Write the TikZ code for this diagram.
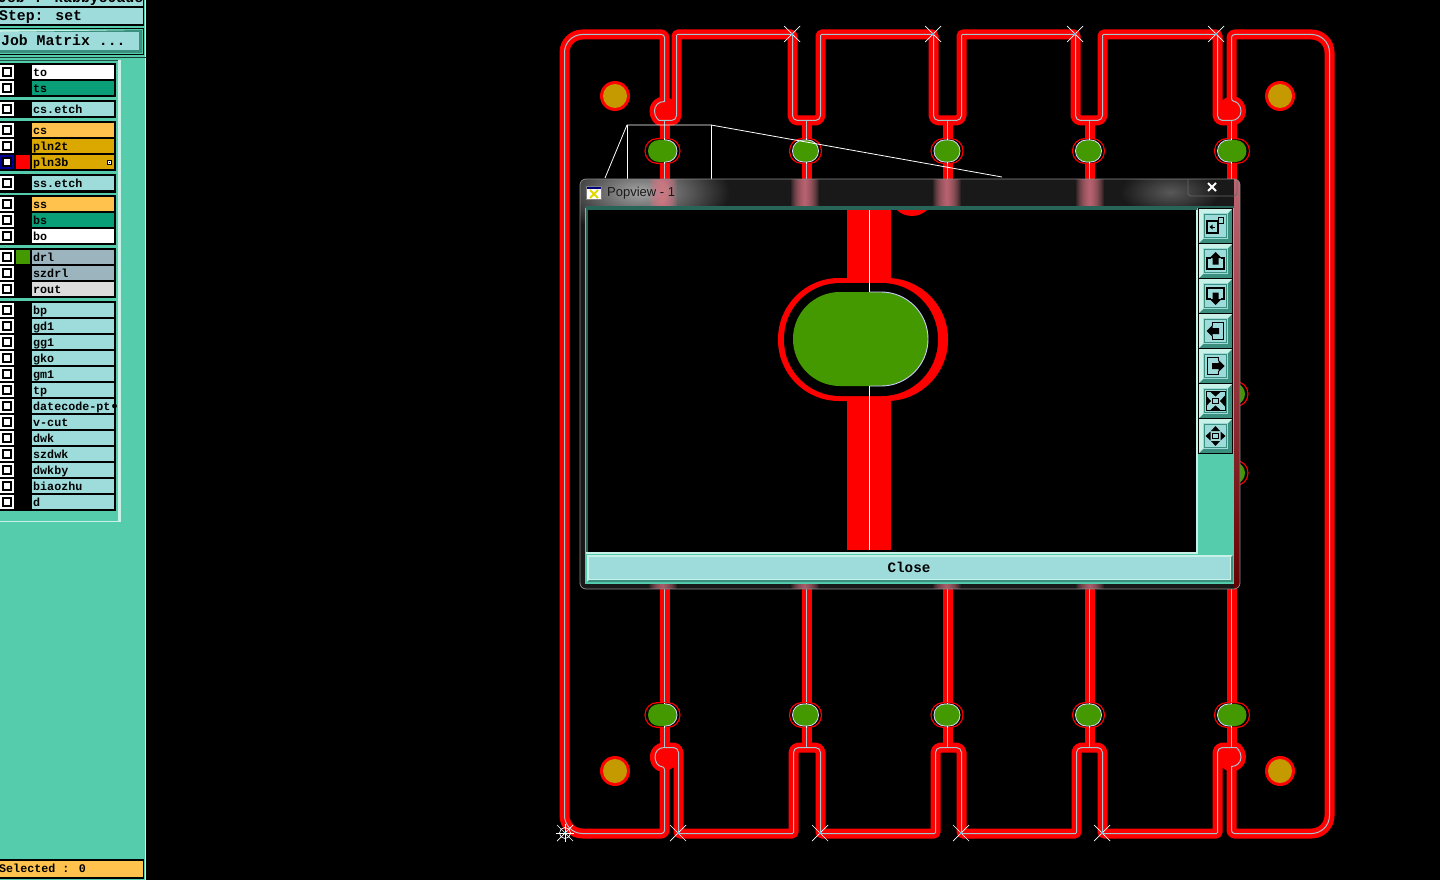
\documentclass[tikz,border=0pt]{standalone}
\usepackage{fontspec}
\usetikzlibrary{fadings}
\setmainfont{Liberation Mono}[BoldFont={Liberation Mono Bold}]
\newfontfamily\uifont{Liberation Sans}
\definecolor{panelteal}{HTML}{55CDAD}
\definecolor{rowblue}{HTML}{9EDCDC}
\definecolor{rowgreen}{HTML}{0A9E78}
\definecolor{rowgold}{HTML}{FFC34D}
\definecolor{rowdgold}{HTML}{DBA800}
\definecolor{rowgrey}{HTML}{9BB4BE}
\definecolor{rowlight}{HTML}{DCDCDC}
\definecolor{bevlight}{HTML}{C8F2E8}
\definecolor{bevdark}{HTML}{3A8F7E}
\definecolor{padgreen}{HTML}{449900}
\definecolor{padgold}{HTML}{C49A00}
\definecolor{tracered}{HTML}{FF0000}
\definecolor{traceline}{HTML}{A8C4CC}
\definecolor{glowpink}{HTML}{E07888}
\tikzfading[name=glowr,inner color=transparent!0,outer color=transparent!100]
\tikzset{
  rowtext/.style={anchor=base west,inner sep=0pt,font=\fontsize{11.7}{12}\selectfont\bfseries},
  headtext/.style={anchor=base west,inner sep=0pt,font=\fontsize{14.8}{15}\selectfont\bfseries},
  hair/.style={white,line width=0.8pt},
  xmark/.style={white,line width=0.7pt},
}
\newcommand\boardpath{
  (664,101) [rounded corners=3pt] -- (664,34) [rounded corners=18pt] -- (564,34) -- (564,833) [rounded corners=3pt] -- (664,833)
  -- (664,766) [sharp corners] .. controls (658,766) and (654.5,762) .. (654.5,756.5) .. controls (654.5,751) and (658,747) .. (664,747)
  [rounded corners=5pt] -- (678,747) [rounded corners=1pt] -- (678,833) -- (793,833) [rounded corners=5pt] -- (793,747) -- (820,747)
  [rounded corners=1pt] -- (820,833) -- (935,833) [rounded corners=5pt] -- (935,747) -- (961,747)
  [rounded corners=1pt] -- (961,833) -- (1076,833) [rounded corners=5pt] -- (1076,747) -- (1102,747)
  [rounded corners=1pt] -- (1102,833) -- (1217,833) [rounded corners=5pt] -- (1217,747) -- (1231,747)
  [sharp corners] .. controls (1236,747) and (1240.5,751) .. (1240.5,756.5) .. controls (1240.5,762) and (1236,766) .. (1231,766)
  [rounded corners=3pt] -- (1231,833) [rounded corners=18pt] -- (1329,833) -- (1329,34) [rounded corners=3pt] -- (1231,34) -- (1231,101)
  [sharp corners] .. controls (1236,101) and (1240.5,105) .. (1240.5,110.5) .. controls (1240.5,116) and (1236,120) .. (1231,120)
  [rounded corners=5pt] -- (1217,120) [rounded corners=1pt] -- (1217,34) -- (1102,34) [rounded corners=5pt] -- (1102,120) -- (1075,120)
  [rounded corners=1pt] -- (1075,34) -- (961,34) [rounded corners=5pt] -- (961,120) -- (933,120)
  [rounded corners=1pt] -- (933,34) -- (820,34) [rounded corners=5pt] -- (820,120) -- (792,120)
  [rounded corners=1pt] -- (792,34) -- (676,34) [rounded corners=5pt] -- (676,120) -- (664,120)
  [sharp corners] .. controls (658,120) and (654,116) .. (654,110.5) .. controls (654,105) and (658,101) .. (664,101) -- cycle
}
\newcommand\risers{(664,120) -- (664,747) (806,120) -- (806,747) (947,120) -- (947,747) (1089,120) -- (1089,747) (1231,120) -- (1231,747)}
% pad: x, y, half width, trace x, outline part (0 none 1 right 2 left 3 both)
\newcommand\boardpad[5]{
  \fill[tracered,rounded corners=12.9pt] ({#1-#3-3.6},{#2-13}) rectangle ({#1+#3+3.6},{#2+13});
  \fill[black,rounded corners=11.6pt] ({#1-#3-2.3},{#2-11.7}) rectangle ({#1+#3+2.3},{#2+11.7});
  \fill[padgreen,rounded corners=10.9pt] ({#1-#3},{#2-11}) rectangle ({#1+#3},{#2+11});
  \draw[white,line width=0.8pt] (#4,{#2-12.5}) -- (#4,{#2-11}) (#4,{#2+11}) -- (#4,{#2+12.5});
  \ifnum#5=1 \draw[white!85!blue,line width=0.8pt,rounded corners=10.9pt] (#4,{#2-11}) -- ({#1+#3},{#2-11}) -- ({#1+#3},{#2+11}) -- (#4,{#2+11}); \fi
  \ifnum#5=2 \draw[white!85!blue,line width=0.8pt,rounded corners=10.9pt] (#4,{#2-11}) -- ({#1-#3},{#2-11}) -- ({#1-#3},{#2+11}) -- (#4,{#2+11}); \fi
  \ifnum#5=3 \draw[white!85!blue,line width=0.8pt,rounded corners=10.9pt] ({#1-#3},{#2-11}) rectangle ({#1+#3},{#2+11}); \fi
}
\newcommand\goldpad[2]{
  \fill[tracered] (#1,#2) circle (15);
  \fill[padgold] (#1,#2) circle (12);
}
\newcommand\xcross[2]{
  \draw[xmark] ({#1-8},{#2-8}) -- ({#1+8},{#2+8}) ({#1-8},{#2+8}) -- ({#1+8},{#2-8});
  \fill[cyan!70!white] (#1,#2) circle (1.3);
}
% layer row: y, fill, text, checkbox colour
\newcommand\layerrow[4]{
  \fill[#4] (0,{#1-7}) rectangle (14,{#1+7});
  \fill[black] (2,{#1-5}) rectangle (12,{#1+5});
  \fill[white] (4,{#1-3}) rectangle (10,{#1+3});
  \fill[#2] (32,{#1-7}) rectangle (114,{#1+7});
  \node[rowtext] (row#1) at (33,{#1+4.5}) {#3};
}
\newcommand\toolbtn[1]{
  \fill[black] (1198,{#1-18}) rectangle (1233,{#1+18});
  \fill[bevdark] (1199,{#1-17}) rectangle (1232,{#1+17});
  \fill[bevlight] (1199,{#1-17}) -- (1232,{#1-17}) -- (1228,{#1-13}) -- (1203,{#1-13}) -- (1203,{#1+13}) -- (1199,{#1+17}) -- cycle;
  \fill[rowblue] (1203,{#1-13}) rectangle (1228,{#1+13});
  \draw[bevdark,line width=0.8pt] (1204.5,{#1-11.5}) rectangle (1226.5,{#1+11.5});
}
\newcommand\arrowicon[2]{
  \begin{scope}[shift={(1215.5,#1)},rotate=#2]
    \draw[black,line width=1.6pt] (-5,-3) -- (-8.5,-3) -- (-8.5,8) -- (8.5,8) -- (8.5,-3) -- (5,-3);
    \fill[black] (0,-9) -- (-6,-3) -- (-3,-3) -- (-3,3.5) -- (3,3.5) -- (3,-3) -- (6,-3) -- cycle;
  \end{scope}
}
\begin{document}
\begin{tikzpicture}[x=1pt,y=-1pt]
\useasboundingbox (0,0) rectangle (1440,880);
\fill[black] (0,0) rectangle (1440,880);

%% ---------- left panel
\begin{scope}
\clip (0,0) rectangle (147,880);
\fill[panelteal] (0,0) rectangle (146,880);
\fill[bevlight] (144.5,0) rectangle (146,880);
\fill[black] (0,0) rectangle (144,26);
\fill[rowblue] (0,0) rectangle (143,6);
\fill[rowblue] (0,8) rectangle (143,24);
\node[headtext] (jobname) at (-2,3) {Job : kabbyo0ade};
\node[headtext] (steplabel) at (-1,21) {Step: set};
\fill[black] (0,28) rectangle (144,55);
\fill[panelteal] (0,29) rectangle (143,54);
\fill[bevlight] (0,30) rectangle (142,53);
\fill[bevdark] (2,32) -- (142,30) -- (142,53) -- (0,53) -- (0,51) -- cycle;
\fill[rowblue] (0,32) rectangle (139,50);
\node[headtext] (jobmatrix) at (1,46) {Job Matrix ...};
\fill[black!70!panelteal] (0,57) rectangle (146,58);
\fill[bevlight] (118,60) rectangle (120.5,522);
\fill[bevlight] (0,520.5) rectangle (120.5,522);
\fill[black!60!panelteal] (0,60) rectangle (118,61);
\fill[black] (0,63) rectangle (115.5,97);
\fill[black] (0,100) rectangle (115.5,118.5);
\fill[black] (0,121) rectangle (115.5,171);
\fill[black] (0,174) rectangle (115.5,192.5);
\fill[black] (0,195) rectangle (115.5,245);
\fill[black] (0,248) rectangle (115.5,298);
\fill[black] (0,301) rectangle (115.5,511);
\layerrow{72}{white}{to}{white}
\layerrow{88}{rowgreen}{ts}{white}
\layerrow{109}{rowblue}{cs.etch}{white}
\layerrow{130}{rowgold}{cs}{white}
\layerrow{146}{rowdgold}{pln2t}{white}
\layerrow{162}{rowdgold}{pln3b}{blue!60!black}
\layerrow{183}{rowblue}{ss.etch}{white}
\layerrow{204}{rowgold}{ss}{white}
\layerrow{220}{rowgreen}{bs}{white}
\layerrow{236}{white}{bo}{white}
\layerrow{257}{rowgrey}{drl}{white}
\layerrow{273}{rowgrey}{szdrl}{white}
\layerrow{289}{rowlight}{rout}{white}
\layerrow{310}{rowblue}{bp}{white}
\layerrow{326}{rowblue}{gd1}{white}
\layerrow{342}{rowblue}{gg1}{white}
\layerrow{358}{rowblue}{gko}{white}
\layerrow{374}{rowblue}{gm1}{white}
\layerrow{390}{rowblue}{tp}{white}
\layerrow{406}{rowblue}{datecode-pt}{white}
\layerrow{422}{rowblue}{v-cut}{white}
\layerrow{438}{rowblue}{dwk}{white}
\layerrow{454}{rowblue}{szdwk}{white}
\layerrow{470}{rowblue}{dwkby}{white}
\layerrow{486}{rowblue}{biaozhu}{white}
\layerrow{502}{rowblue}{d}{white}
\fill[black] (114.5,406) circle (2.4);
\fill[tracered] (16,155) rectangle (30,169);
\fill[padgreen] (16,250) rectangle (30,264);
\draw[black,line width=0.6pt,fill=white] (107,160) rectangle (111.5,164.5);
\fill[black] (108.5,161.5) rectangle (110,163);
\fill[black] (0,859) rectangle (144,878.5);
\fill[rowgold] (0,860.5) rectangle (143,877);
\node[rowtext] (selected) at (-1,872) {Selected : 0};
\end{scope}

%% ---------- board
\fill[tracered] (664,111) circle (14) (1231,111) circle (14) (664,757) circle (14) (1231,757) circle (14);
\begin{scope}[shift={(0.5,0.5)}]
\draw[tracered,line width=10pt] \risers;
\draw[tracered,line width=10pt,line join=round] \boardpath;
\draw[traceline,line width=1pt,line join=round] \boardpath;
\draw[traceline,line width=1pt] \risers;
\end{scope}

\goldpad{615}{96}
\goldpad{1280}{96}
\goldpad{615}{771}
\goldpad{1280}{771}

\boardpad{662.5}{151}{14.5}{664.5}{1}
\boardpad{805.5}{151}{13}{806.5}{3}
\boardpad{947}{151}{13}{947.5}{3}
\boardpad{1088.5}{151}{13}{1089.5}{3}
\boardpad{1232}{151}{14.5}{1231.5}{2}
\boardpad{662.5}{715}{14.5}{664.5}{1}
\boardpad{805.5}{715}{13}{806.5}{3}
\boardpad{947}{715}{13}{947.5}{3}
\boardpad{1088.5}{715}{13}{1089.5}{3}
\boardpad{1232}{715}{14.5}{1231.5}{2}
\boardpad{1232}{394}{13}{1231.5}{0}
\boardpad{1232}{473}{13}{1231.5}{0}

\xcross{792}{34}
\xcross{933}{34}
\xcross{1075}{34}
\xcross{1216}{34}
\xcross{678}{833}
\xcross{820}{833}
\xcross{961}{833}
\xcross{1102}{833}
\xcross{565}{833}
\draw[xmark] (556,833) -- (574,833) (565,824) -- (565,842);
\draw[xmark] (565,833) circle (5.5);

%% lens lines
\draw[hair] (605,178) -- (627,125) -- (711,125) -- (1002,177);
\draw[hair] (627,125) -- (627,179) (711,125) -- (711,179);

%% ---------- popup window
\fill[black!90!white,rounded corners=6pt] (580,179) rectangle (1240,589);
\begin{scope}
\clip[rounded corners=6pt] (580,179) rectangle (1240,589);
\fill[black!35!white,path fading=glowr] (640,192) ellipse (90 and 42);
\fill[black!65!white,path fading=glowr] (1170,192) ellipse (50 and 24);
\foreach \g in {663,805,947,1090}{
  \foreach \w in {1,2,...,14}{
    \fill[glowpink,opacity=0.11] ({\g-\w},179) rectangle ({\g+\w},207);
    \fill[glowpink,opacity=0.09] ({\g-\w},583) rectangle ({\g+\w},589);
  }
}
\shade[top color=glowpink!85!black,bottom color=red!40!black] (1234,179) rectangle (1240,589);
\end{scope}
\draw[black!45!white,line width=0.8pt,rounded corners=6pt] (580,179) rectangle (1240,589);
\draw[black!60!white,line width=0.7pt,rounded corners=3pt] (1188,179) -- (1188,196) -- (1237,196) -- (1237,181);
\draw[white,line width=2pt] (1208,183) -- (1216,191) (1208,191) -- (1216,183);

%% title icon and text
\fill[white] (586.5,186) rectangle (601,199.5);
\fill[blue!50!black] (586.5,186) rectangle (601,188.5);
\draw[yellow!75!olive,line width=2pt] (590,190) -- (598,198) (590,198) -- (598,190);
\draw[black!50!white,line width=0.5pt] (586.5,186) rectangle (601,199.5);
\node[anchor=base west,inner sep=0pt,text=black!90,font=\uifont\fontsize{13}{14}\selectfont] (poptitle) at (607,196) {Popview - 1};

%% client area
\fill[panelteal] (585,206) rectangle (1234,584);
\fill[bevdark!70!black] (585,206) rectangle (1234,208);
\fill[bevdark!70!black] (586,208) rectangle (588,553);
\fill[black] (588,210) rectangle (1196,552);
\fill[bevlight] (1196,210) rectangle (1198,554);
\fill[bevlight] (586,552) rectangle (1198,554);
\fill[bevdark!70!black] (588,208) rectangle (1197,210);

%% magnified view
\begin{scope}
\clip (588,210) rectangle (1196,552);
\fill[tracered] (847,210) rectangle (891,550);
\fill[tracered] (912,194) circle (22);
\fill[black] (891,210) rectangle (896,218);
\fill[black] (891,218) rectangle (945,230);
\fill[tracered,rounded corners=61pt] (778,278) rectangle (948,401);
\fill[black,rounded corners=56pt] (784,283) rectangle (938,396);
\fill[padgreen,rounded corners=46.9pt] (793,292) rectangle (928,386);
\draw[white,line width=1pt] (869.5,210) -- (869.5,292) (869.5,386) -- (869.5,550);
\draw[white!80!blue,line width=0.9pt,rounded corners=46.9pt] (869.5,292) -- (928,292) -- (928,386) -- (869.5,386);
\end{scope}

%% toolbar
\fill[panelteal] (1198,453) rectangle (1233,553);
\foreach \b in {226,261,296,331,366,401,436}{\toolbtn{\b}}
\begin{scope}[shift={(1215.5,226)}]
  \draw[black,line width=1.6pt] (-8.5,-5) rectangle (2.5,7);
  \draw[black,line width=0.7pt,fill=rowblue] (2.5,-9) rectangle (8,-2.5);
  \draw[black,line width=0.7pt] (-1,1) -- (-5,1);
  \fill[black] (-6,1) -- (-3,-1.5) -- (-3,3.5) -- cycle;
\end{scope}
\arrowicon{261}{0}
\arrowicon{296}{180}
\arrowicon{331}{90}
\arrowicon{366}{-90}
\begin{scope}[shift={(1215.5,401)}]
  \draw[black,line width=1pt] (-2.8,-2.8) rectangle (2.8,2.8);
  \draw[black,line width=0.5pt] (-9.5,-9.5) rectangle (9.5,9.5);
  \foreach \a in {0,90,180,270}{
    \begin{scope}[rotate=\a]
      \fill[black] (0,-4.5) -- (-5.5,-9.5) -- (5.5,-9.5) -- cycle;
    \end{scope}
  }
\end{scope}
\begin{scope}[shift={(1215.5,436)}]
  \draw[black,line width=1pt] (-2.8,-2.8) rectangle (2.8,2.8);
  \foreach \a in {0,90,180,270}{
    \begin{scope}[rotate=\a]
      \fill[black] (0,-10) -- (-4.5,-5) -- (4.5,-5) -- cycle;
    \end{scope}
  }
\end{scope}

%% close button
\fill[bevlight] (587,555) rectangle (1233,582);
\fill[bevdark] (589,580) -- (1231,580) -- (1231,557) -- (1233,555) -- (1233,582) -- (587,582) -- cycle;
\fill[rowblue] (589,557) rectangle (1230,579);
\node[anchor=base,inner sep=0pt,font=\fontsize{14.3}{15}\selectfont\bfseries] (closelabel) at (909,572.5) {Close};
\end{tikzpicture}
\end{document}
